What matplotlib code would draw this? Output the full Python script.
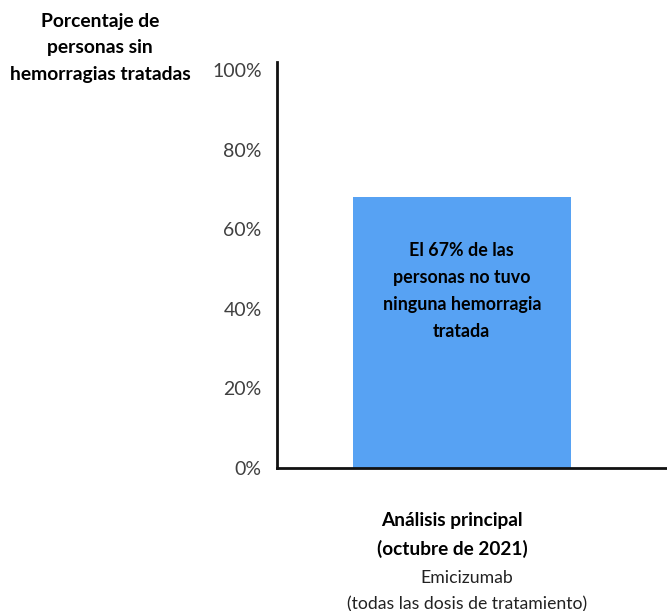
import matplotlib
matplotlib.use('Agg')
import matplotlib.pyplot as plt

# chart data
categories = ['Emicizumab']
values = [68]
yticks = [0, 20, 40, 60, 80, 100]
ytick_labels = ['0%', '20%', '40%', '60%', '80%', '100%']
ylabel_text = 'Porcentaje de\npersonas sin\nhemorragias tratadas'
bar_text = 'El 67% de las\npersonas no tuvo\nninguna hemorragia\ntratada'
group_title = 'Análisis principal\n(octubre de 2021)'
group_sub = 'Emicizumab\n(todas las dosis de tratamiento)'

plt.rcParams['font.family'] = ['Lato', 'DejaVu Sans']

fig = plt.figure(figsize=(6.67, 6.11), dpi=100)
ax = fig.add_axes([0.4153, 0.234, 0.5847, 0.6645])

ax.bar(range(len(categories)), values, width=0.56, color='#57A2F3', zorder=2)
ax.set_xlim(-0.474, 0.526)
ax.set_ylim(0, 102)

ax.set_yticks(yticks)
ax.set_yticklabels(ytick_labels, fontsize=14, color='#404040')
ax.tick_params(axis='y', length=0, pad=11)
ax.set_xticks([])

for side in ['top', 'right']:
    ax.spines[side].set_visible(False)
for side in ['left', 'bottom']:
    ax.spines[side].set_linewidth(2)
    ax.spines[side].set_color('#111111')

# text inside bar
ax.text(0, 44.5, bar_text, ha='center', va='center', fontsize=12.9,
        fontweight='bold', color='black', linespacing=1.73)

# y axis title
fig.text(100 / 667, 1 - 48 / 611, ylabel_text, ha='center', va='center',
         fontsize=13.9, fontweight='bold', color='black', linespacing=1.66)

# category labels under the axis
fig.text(452 / 667, 1 - 535 / 611, group_title, ha='center', va='center',
         fontsize=13.7, fontweight='bold', color='black', linespacing=1.70)
fig.text(467 / 667, 1 - 591 / 611, group_sub, ha='center', va='center',
         fontsize=12.7, color='#222222', linespacing=1.76)

fig.savefig('out.png', dpi=100)
